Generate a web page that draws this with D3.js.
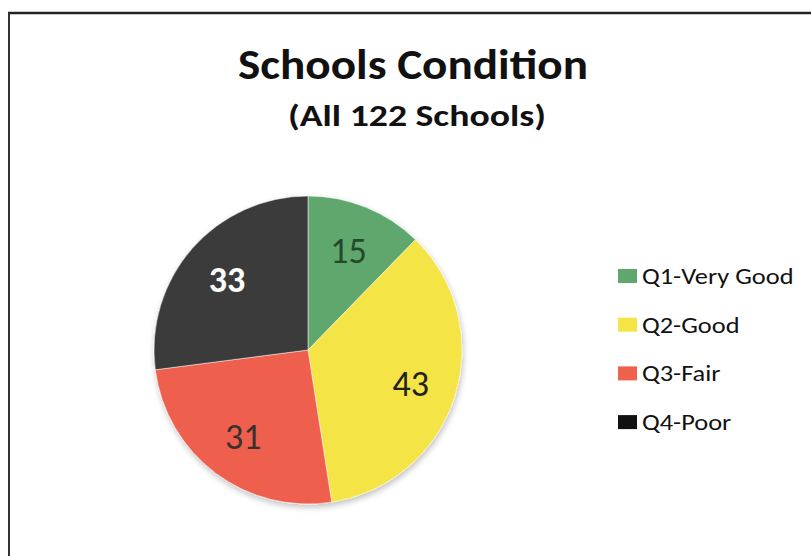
<!DOCTYPE html>
<html>
<head>
<meta charset="utf-8">
<script src="https://cdn.jsdelivr.net/npm/d3@7"></script>
<style>
  body { margin: 0; background: #fff; }
  svg { display: block; }
  text { font-family: Carlito, Lato, "Open Sans", sans-serif; }
</style>
</head>
<body>
<div id="chart"></div>
<script>
// data
const categories = ["Q1-Very Good", "Q2-Good", "Q3-Fair", "Q4-Poor"];
const schoolCounts = [15, 43, 31, 33];
const sliceColors = ["#60a76d", "#f4e445", "#ee614d", "#3b3b3b"];
const labelColors = ["#24482c", "#222222", "#3a3030", "#ffffff"];
const titleText = "Schools Condition";
const subtitleText = "(All 122 Schools)";

const width = 811;
const height = 556;

const svg = d3.select("#chart")
    .append("svg")
    .attr("width", width)
    .attr("height", height);

// scanned frame (top and left edges only)
svg.append("line")
    .attr("x1", 8).attr("y1", 13).attr("x2", width).attr("y2", 13)
    .attr("stroke", "#222").attr("stroke-width", 2.5);
svg.append("line")
    .attr("x1", 9).attr("y1", 13).attr("x2", 9).attr("y2", height)
    .attr("stroke", "#333").attr("stroke-width", 2);

// titles
svg.append("text")
    .attr("x", 413).attr("y", 79)
    .attr("text-anchor", "middle")
    .attr("font-size", 42).attr("font-weight", "bold")
    .attr("textLength", 350).attr("lengthAdjust", "spacingAndGlyphs")
    .attr("fill", "#111")
    .text(titleText);

svg.append("text")
    .attr("x", 417).attr("y", 126)
    .attr("text-anchor", "middle")
    .attr("font-size", 31).attr("font-weight", "bold")
    .attr("textLength", 258).attr("lengthAdjust", "spacingAndGlyphs")
    .attr("fill", "#111")
    .text(subtitleText);

// pie
const cx = 308, cy = 350, radius = 154;

const pie = d3.pie()
    .sort(null)
    .value((d) => d.value);

const arc = d3.arc()
    .innerRadius(0)
    .outerRadius(radius);

const labelArc = d3.arc()
    .innerRadius(radius * 0.7)
    .outerRadius(radius * 0.7);

const data = categories.map((c, i) => ({ name: c, value: schoolCounts[i], i: i }));

const defs = svg.append("defs");
const shadow = defs.append("filter").attr("id", "shadow")
    .attr("x", "-20%").attr("y", "-20%").attr("width", "140%").attr("height", "140%");
shadow.append("feGaussianBlur").attr("in", "SourceAlpha").attr("stdDeviation", 3);
shadow.append("feOffset").attr("dx", 1).attr("dy", 3).attr("result", "blur");
shadow.append("feComponentTransfer").append("feFuncA").attr("type", "linear").attr("slope", 0.25);
const merge = shadow.append("feMerge");
merge.append("feMergeNode");
merge.append("feMergeNode").attr("in", "SourceGraphic");

const g = svg.append("g")
    .attr("transform", "translate(" + cx + "," + cy + ")");

g.append("g")
    .attr("filter", "url(#shadow)")
    .selectAll("path")
    .data(pie(data))
    .enter()
    .append("path")
    .attr("d", arc)
    .attr("fill", (d) => sliceColors[d.data.i])
    .attr("stroke", "#fff")
    .attr("stroke-width", 0.5);

g.selectAll(".slice-label")
    .data(pie(data))
    .enter()
    .append("text")
    .attr("class", "slice-label")
    .attr("transform", (d) => "translate(" + labelArc.centroid(d) + ")")
    .attr("text-anchor", "middle")
    .attr("dy", "0.36em")
    .style("font-family", "Carlito, Lato, sans-serif")
    .style("font-size", "36px")
    .style("font-weight", (d) => d.data.i === 3 ? "700" : "400")
    .attr("fill", (d) => labelColors[d.data.i])
    .text((d) => d.data.value);

// legend
const legendX = 618, legendY = 276, legendStep = 48.7;

const legend = svg.append("g")
    .selectAll("g")
    .data(data)
    .enter()
    .append("g")
    .attr("transform", (d, i) => "translate(" + legendX + "," + (legendY + i * legendStep) + ")");

legend.append("rect")
    .attr("x", 0).attr("y", -7)
    .attr("width", 19).attr("height", 14)
    .attr("fill", (d) => d.i === 3 ? "#111" : sliceColors[d.i]);

legend.append("text")
    .attr("transform", "translate(24,0) scale(1.2,1)")
    .attr("dy", "0.36em")
    .attr("font-size", 22)
    .attr("fill", "#111")
    .text((d) => d.name);
</script>
</body>
</html>
